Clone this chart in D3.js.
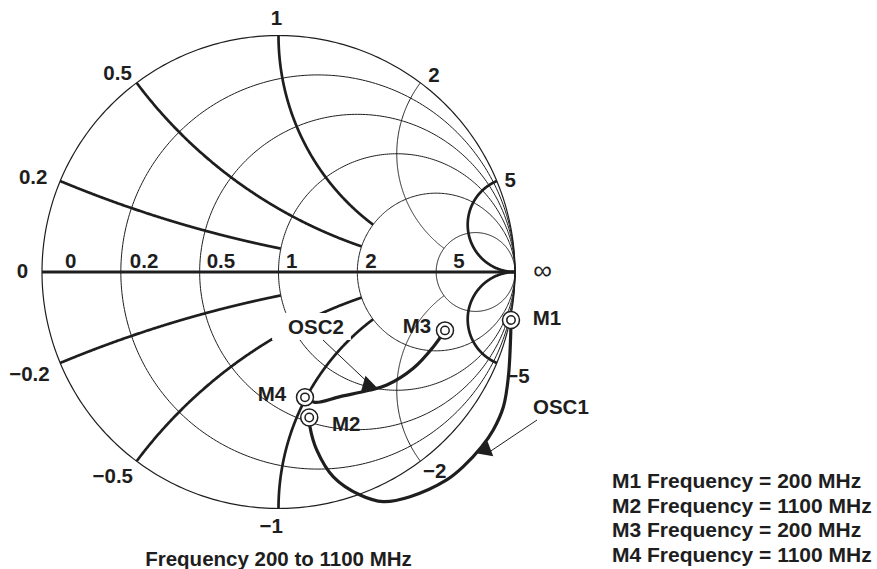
<!DOCTYPE html>
<html>
<head>
<meta charset="utf-8">
<script src="https://cdn.jsdelivr.net/npm/d3@7"></script>
<style>
  body { margin: 0; background: #fff; }
  svg text { font-family: "Liberation Sans", Arial, sans-serif; font-weight: bold; font-size: 20.5px; fill: #1e1e1e; }
  svg text.legend { font-size: 21px; }
</style>
</head>
<body>
<script>
// smith chart grid values
const resistances = [0, 0.2, 0.5, 1, 2, 5];
const reactances = [0.2, 0.5, 1, 2, 5];
const reactanceEnds = [1, 2, 2, 5, Infinity];   // resistance circle where each arc stops
const heavyReactances = [0.2, 0.5, 1, 5];

// labels round the rim (reactance) and along the real axis (resistance)
const rimLabels = ["1", "0.5", "0.2", "0", "2", "5", "\u2212" + "0.2", "\u2212" + "0.5", "\u2212" + "1", "\u2212" + "2", "\u2212" + "5"];
const rimReactance = [1, 0.5, 0.2, 0, 2, 5, -0.2, -0.5, -1, -2, -5];
const axisLabels = ["0", "0.2", "0.5", "1", "2", "5"];

// oscillator traces, reflection coefficient [re, im], from 200 MHz to 1100 MHz
const osc1 = [[0.983, -0.203], [0.982, -0.259], [0.972, -0.443], [0.951, -0.570], [0.908, -0.668],
              [0.859, -0.739], [0.781, -0.823], [0.711, -0.879], [0.556, -0.950], [0.443, -0.971],
              [0.345, -0.943], [0.232, -0.866], [0.162, -0.753], [0.133, -0.654], [0.130, -0.615]];
const osc2 = [[0.704, -0.247], [0.655, -0.316], [0.570, -0.407], [0.458, -0.478], [0.383, -0.500],
              [0.260, -0.527], [0.154, -0.551], [0.112, -0.530]];

const markerNames = ["M1", "M2", "M3", "M4"];
const markerFreqs = [200, 1100, 200, 1100];
const sweep = [200, 1100];

const w = 877, h = 569;
const cx = 278.5, cy = 272, R = 236.5;

const xScale = d3.scaleLinear().domain([-1, 1]).range([cx - R, cx + R]);
const yScale = d3.scaleLinear().domain([-1, 1]).range([cy + R, cy - R]);

const ink = "#1e1e1e";

function gamma(r, x) {
  if (!isFinite(r) || !isFinite(x)) return [1, 0];
  const d = (r + 1) * (r + 1) + x * x;
  return [(r * r + x * x - 1) / d, 2 * x / d];
}

const line = d3.line().x(d => xScale(d[0])).y(d => yScale(d[1]));
const ring = d3.line().x(d => xScale(d[0])).y(d => yScale(d[1])).curve(d3.curveLinearClosed);
const smooth = d3.line().x(d => xScale(d[0])).y(d => yScale(d[1])).curve(d3.curveCatmullRom.alpha(0.5));

const svg = d3.select("body").append("svg")
  .attr("width", w)
  .attr("height", h);

// resistance circles
svg.append("g").selectAll("path")
  .data(resistances)
  .enter()
  .append("path")
  .attr("d", r => {
    const c = r / (1 + r), rad = 1 / (1 + r);
    return ring(d3.range(0, 360, 1).map(a => {
      const t = a * Math.PI / 180;
      return [c + rad * Math.cos(t), rad * Math.sin(t)];
    }));
  })
  .attr("fill", "none")
  .attr("stroke", ink)
  .attr("stroke-width", r => r === 0 ? 1.2 : 1);

// reactance arcs, both signs
const arcs = [];
reactances.forEach((x, i) => {
  [x, -x].forEach(v => arcs.push({x: v, end: reactanceEnds[i], heavy: heavyReactances.includes(x)}));
});

svg.append("g").selectAll("path")
  .data(arcs)
  .enter()
  .append("path")
  .attr("d", a => {
    let pts;
    if (isFinite(a.end)) {
      pts = d3.range(0, 1.0001, 1 / 400).map(t => gamma(t * a.end, a.x));
    } else {
      pts = d3.range(0, 1, 1 / 800).map(t => gamma(t / (1 - t), a.x));
      pts.push([1, 0]);
    }
    return line(pts);
  })
  .attr("fill", "none")
  .attr("stroke", ink)
  .attr("stroke-width", a => a.heavy ? 2.7 : 1);

// real axis
svg.append("path")
  .attr("d", line([[-1, 0], [1, 0]]))
  .attr("stroke", ink)
  .attr("stroke-width", 2.8);

// traces
svg.append("g").selectAll("path")
  .data([osc1, osc2])
  .enter()
  .append("path")
  .attr("d", d => smooth(d))
  .attr("fill", "none")
  .attr("stroke", ink)
  .attr("stroke-width", 3.2)
  .attr("stroke-linejoin", "round");

// OSC call-outs: wedge on the trace and a leader to the name
const callouts = [
  {name: "OSC1", curve: osc1, at: 5, text: [533, 413.5], anchor: "start", from: [537, 420]},
  {name: "OSC2", curve: osc2, at: 4, text: [316, 334], anchor: "middle", from: [323, 340]}
];

callouts.forEach(c => {
  const px = d => [xScale(d[0]), yScale(d[1])];
  const p = px(c.curve[c.at]), a = px(c.curve[c.at - 1]), b = px(c.curve[c.at + 1]);
  let tx = b[0] - a[0], ty = b[1] - a[1];
  const len = Math.hypot(tx, ty);
  tx /= len; ty /= len;
  let nx = -ty, ny = tx;
  if (nx * (c.from[0] - p[0]) + ny * (c.from[1] - p[1]) < 0) { nx = -nx; ny = -ny; }
  const base = [p[0] + nx, p[1] + ny];
  const tri = [
    [base[0] - tx * 8, base[1] - ty * 8],
    [base[0] + tx * 8, base[1] + ty * 8],
    [base[0] + nx * 14, base[1] + ny * 14]
  ];
  svg.append("line")
    .attr("x1", c.from[0]).attr("y1", c.from[1])
    .attr("x2", base[0] + nx * 8).attr("y2", base[1] + ny * 8)
    .attr("stroke", ink)
    .attr("stroke-width", 1);
  svg.append("path")
    .attr("d", "M" + tri.map(q => q.join(",")).join("L") + "Z")
    .attr("fill", ink);

  const label = svg.append("text")
    .attr("x", c.text[0])
    .attr("y", c.text[1])
    .attr("text-anchor", c.anchor)
    .text(c.name);
  if (c.name === "OSC2") {
    const bb = label.node().getBBox();
    svg.insert("rect", "text")
      .attr("x", bb.x - 16).attr("y", bb.y - 2)
      .attr("width", bb.width + 23).attr("height", bb.height + 4)
      .attr("fill", "#fff");
  }
});

// markers sit on the trace ends
const markerPts = [osc1[0], osc1[osc1.length - 1], osc2[0], osc2[osc2.length - 1]];
const markerOffsets = [[36, 5], [37, 14], [-28, 3], [-33, 4]];

const marks = svg.append("g").selectAll("g")
  .data(markerPts)
  .enter()
  .append("g")
  .attr("transform", d => "translate(" + xScale(d[0]) + "," + yScale(d[1]) + ")");
marks.append("circle").attr("r", 8.5).attr("fill", "#fff").attr("stroke", ink).attr("stroke-width", 1.5);
marks.append("circle").attr("r", 4.2).attr("fill", "none").attr("stroke", ink).attr("stroke-width", 1.5);
marks.append("text")
  .attr("x", (d, i) => markerOffsets[i][0])
  .attr("y", (d, i) => markerOffsets[i][1])
  .attr("text-anchor", "middle")
  .text((d, i) => markerNames[i]);

// rim labels
const rimOffsets = [[-2, -10.5], [-19, -3], [-27, 3], [-19.5, 6], [13.5, -1], [13.5, 5.7],
                    [-30.7, 18], [-23.8, 22], [-7.2, 24.8], [14.3, 17], [21.2, 20.3]];
svg.append("g").selectAll("text")
  .data(rimReactance)
  .enter()
  .append("text")
  .attr("x", (x, i) => xScale(gamma(0, x)[0]) + rimOffsets[i][0])
  .attr("y", (x, i) => yScale(gamma(0, x)[1]) + rimOffsets[i][1])
  .attr("text-anchor", "middle")
  .text((x, i) => rimLabels[i]);

svg.append("text")
  .attr("x", xScale(1) + 27.5)
  .attr("y", yScale(0) + 7)
  .attr("text-anchor", "middle")
  .style("font-weight", "normal")
  .style("font-size", "26px")
  .text("\u221e");

// resistance labels above the axis
const axisDx = [23, 9, 7, 7.5, 8, 17];
svg.append("g").selectAll("text")
  .data(resistances)
  .enter()
  .append("text")
  .attr("x", (r, i) => xScale((r - 1) / (r + 1)) + axisDx[i])
  .attr("y", yScale(0) - 3.7)
  .text((r, i) => axisLabels[i]);

svg.append("text")
  .attr("x", cx)
  .attr("y", 566)
  .attr("text-anchor", "middle")
  .text("Frequency " + sweep[0] + " to " + sweep[1] + " MHz");

svg.append("g").selectAll("text")
  .data(markerNames)
  .enter()
  .append("text")
  .attr("class", "legend")
  .attr("x", 612)
  .attr("y", (d, i) => 488 + i * 24.5)
  .text((d, i) => d + " Frequency = " + markerFreqs[i] + " MHz");
</script>
</body>
</html>
